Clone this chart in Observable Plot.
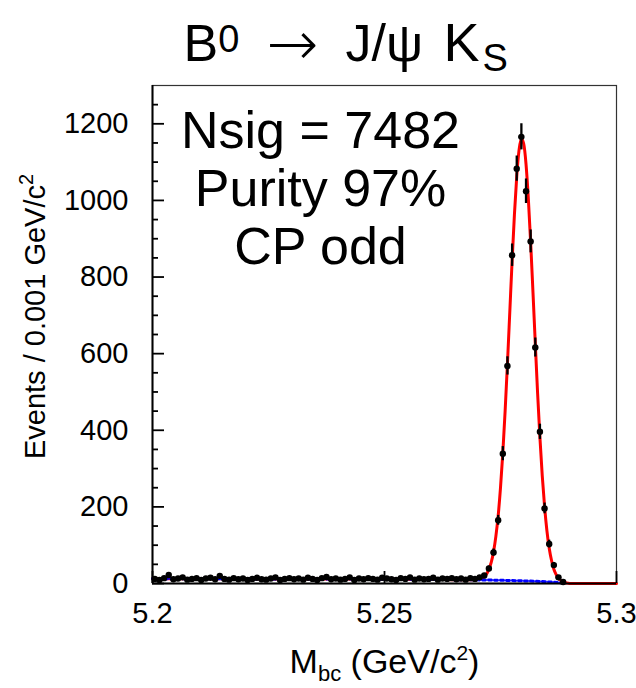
<!DOCTYPE html>
<html><head><meta charset="utf-8">
<script src="https://cdn.jsdelivr.net/npm/d3@7"></script>
<script src="https://cdn.jsdelivr.net/npm/@observablehq/plot@0.6"></script>
<style>body{margin:0;background:#fff} #chart{width:636px;height:688px}</style>
</head><body><div id="chart"></div>
<script>
// ---- data ----
const binLow = 5.2, binWidth = 0.001;            // 100 bins of 0.001 GeV/c^2
const counts = [
  12, 9, 14, 22, 11, 13, 16, 10, 12, 14,
  9, 13, 15, 11, 20, 12, 10, 14, 11, 13,
  9, 12, 15, 11, 10, 13, 16, 9, 12, 14,
  11, 13, 10, 15, 12, 9, 14, 17, 11, 13,
  10, 12, 16, 9, 13, 11, 14, 12, 10, 15,
  13, 11, 9, 14, 12, 16, 10, 13, 11, 12,
  15, 10, 13, 12, 14, 11,
  13, 10, 14, 12, 16, 21, 39, 81, 165, 339,
  568, 857, 1083, 1166, 1024, 893, 616, 396, 196, 103,
  48, 16, 4,
  0, 0, 0, 0, 0, 0, 0, 0, 0, 0, 0
];
const fitMass = [5.2, 5.21, 5.22, 5.23, 5.24, 5.25, 5.26, 5.265, 5.2675, 5.269,
  5.27, 5.2705, 5.271, 5.2715, 5.272, 5.2725, 5.273, 5.2735, 5.274, 5.2745,
  5.275, 5.2755, 5.276, 5.2765, 5.277, 5.2775, 5.278, 5.2785, 5.279, 5.2795,
  5.28, 5.2805, 5.281, 5.2815, 5.282, 5.2825, 5.283, 5.2835, 5.284, 5.2845,
  5.285, 5.2855, 5.286, 5.2865, 5.287, 5.2875, 5.288, 5.2885, 5.289, 5.2895,
  5.29, 5.3];
const fitValue = [12.5, 12.3, 12.1, 11.9, 11.6, 11.2, 10.6, 10.1, 9.7, 9.8,
  10.8, 11.9, 14.2, 18.2, 25, 37, 55, 83, 123, 177,
  250, 341, 451, 575, 708, 842, 963, 1063, 1132, 1161,
  1148, 1095, 1005, 890, 760, 626, 496, 380, 281, 201,
  138, 92, 60, 37, 23, 13, 8, 4, 2, 1,
  0, 0];
const bkgMass = [5.2, 5.21, 5.22, 5.23, 5.24, 5.25, 5.26, 5.265, 5.27, 5.275,
  5.28, 5.2825, 5.285, 5.2865, 5.2875, 5.288, 5.2885, 5.289];
const bkgValue = [12.5, 12.3, 12.1, 11.9, 11.6, 11.2, 10.6, 10.1, 9.5, 8.4,
  6.9, 5.8, 4.4, 3.3, 2.4, 1.8, 1.0, 0];
const yMajorTicks = [0, 200, 400, 600, 800, 1000, 1200];
const yMinorTicks = [50, 100, 150, 250, 300, 350, 450, 500, 550, 650, 700, 750, 850, 900, 950, 1050, 1100, 1150, 1250];
const xTicks = [5.2, 5.25, 5.3];
const xTickLabels = ["5.2", "5.25", "5.3"];
const titleText = "B0 → J/ψ KS";
const annotations = ["Nsig = 7482", "Purity 97%", "CP odd"];
const xTitle = "Mbc (GeV/c2)";
const yTitle = "Events / 0.001 GeV/c2";

// ---- tables ----
const bins = counts.map((n, i) => ({m: binLow + (i + 0.5) * binWidth, n, e: Math.sqrt(n)})).filter(d => d.n > 0);
const fit = fitMass.map((m, i) => ({m, v: fitValue[i]}));
const bkg = bkgMass.map((m, i) => ({m, v: bkgValue[i]}));
const xLab = new Map(xTicks.map((t, i) => [t, xTickLabels[i]]));

const font = "'Liberation Sans', Arial, Helvetica, sans-serif";
const chart = Plot.plot({
  width: 636, height: 688,
  marginLeft: 152, marginRight: 20, marginTop: 85, marginBottom: 105,
  x: {domain: [5.2, 5.3]},
  y: {domain: [0, 1300]},
  style: {fontFamily: font, background: "white", color: "black", overflow: "visible"},
  marks: [
    Plot.frame({stroke: "#333", strokeWidth: 1.2}),
    Plot.line(fit, {x: "m", y: "v", stroke: "#ff0000", strokeWidth: 3, curve: "monotone-x"}),
    Plot.line(bkg, {x: "m", y: "v", stroke: "#0000ff", strokeWidth: 3, strokeDasharray: "3,3"}),
    Plot.ruleX(bins, {x: "m", y1: d => d.n - d.e, y2: d => d.n + d.e, stroke: "black", strokeWidth: 2.3}),
    Plot.ruleY(bins, {y: "n", x1: d => d.m - binWidth / 2, x2: d => d.m + binWidth / 2, stroke: "black", strokeWidth: 2.3}),
    Plot.dot(bins, {x: "m", y: "n", r: 3.2, fill: "black"}),
    Plot.ruleY([0], {stroke: "black", strokeWidth: 2}),
    Plot.ruleX([5.2], {stroke: "black", strokeWidth: 2}),
    // inward ticks
    Plot.axisY(yMajorTicks, {tickSize: -12, strokeWidth: 1.8, tickFormat: () => "", label: null}),
    Plot.axisY(yMinorTicks, {tickSize: -6, strokeWidth: 1.8, tickFormat: () => "", label: null}),
    Plot.axisX(xTicks, {tickSize: -12, strokeWidth: 1.8, tickFormat: () => "", label: null}),
    // tick labels
    Plot.axisY(yMajorTicks, {tickSize: 0, tickPadding: 24, fontSize: 29, tickFormat: d => String(d), label: null}),
    Plot.axisX(xTicks, {tickSize: 0, tickPadding: 19, fontSize: 29, tickFormat: d => xLab.get(d), label: null}),
    // texts
    Plot.text([titleText], {frameAnchor: "top-left", dx: 31, dy: -25, lineAnchor: "bottom", textAnchor: "start", fontSize: 52}),
    Plot.text([annotations[0]], {frameAnchor: "top", dx: -64, dy: 62, lineAnchor: "bottom", fontSize: 52}),
    Plot.text([annotations[1]], {frameAnchor: "top", dx: -64, dy: 120, lineAnchor: "bottom", fontSize: 52}),
    Plot.text([annotations[2]], {frameAnchor: "top", dx: -64, dy: 178, lineAnchor: "bottom", fontSize: 52}),
    Plot.text([xTitle], {frameAnchor: "bottom", dx: 0, dy: 89, lineAnchor: "bottom", textAnchor: "middle", fontSize: 34}),
    Plot.text([yTitle], {frameAnchor: "left", rotate: -90, dx: -108, dy: -18, lineAnchor: "bottom", textAnchor: "middle", fontSize: 29})
  ]
});

// sub/superscripts: [text, fontSize, baseline shift, x offset, font family]
const rich = new Map([
  [titleText, [["B"], ["0", 38, -9], ["→", 62, 4, 83, "'DejaVu Sans'"], ["J/ψ", null, 0, 162], ["K", 54, 0, 260], ["S", 38, 10, 299]]],
  [xTitle, [["M"], ["bc", 22, 8], [" (GeV/c"], ["2", 21, -13], [")"]]],
  [yTitle, [["Events / 0.001 GeV/c"], ["2", 20, -12]]]
]);
d3.select(chart).selectAll("text").each(function () {
  const parts = rich.get(this.textContent);
  if (!parts) return;
  const sel = d3.select(this);
  sel.text(null);
  let cur = 0;
  for (const [t, size, shift = 0, x, fam] of parts) {
    const ts = sel.append("tspan").text(t);
    if (size) ts.attr("font-size", size);
    if (shift !== cur) ts.attr("dy", shift - cur);
    if (x != null) ts.attr("x", x);
    if (fam) ts.attr("font-family", fam).attr("font-weight", 200);
    cur = shift;
  }
});
document.getElementById("chart").appendChild(chart);
</script>
</body></html>
